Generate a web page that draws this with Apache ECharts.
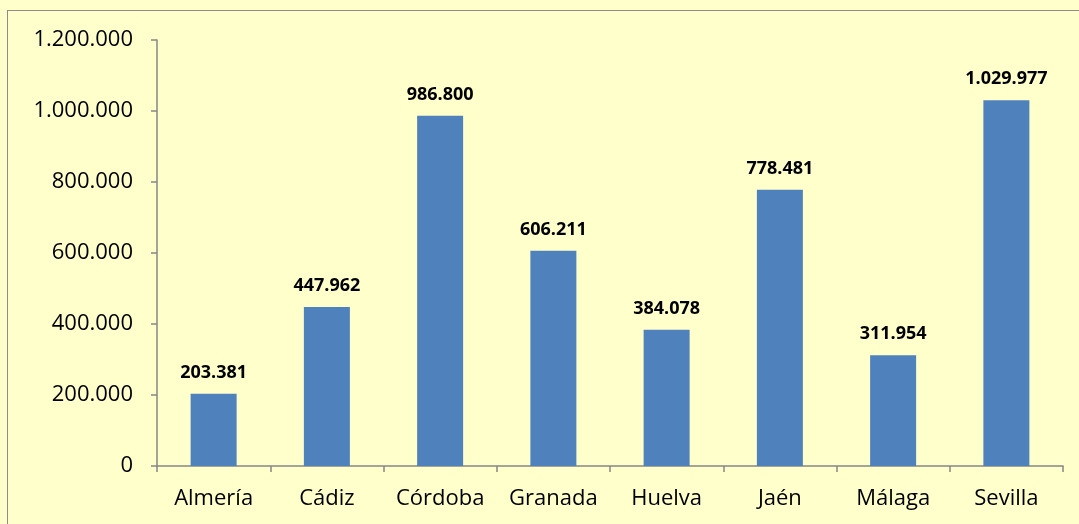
<!DOCTYPE html>
<html>
<head>
<meta charset="utf-8">
<script src="https://cdn.jsdelivr.net/npm/echarts@6/dist/echarts.min.js"></script>
<style>
  html, body { margin: 0; padding: 0; background: #ffffcc; overflow: hidden; }
  #frame {
    position: absolute; left: 7px; top: 10px; width: 1100px; height: 560px;
    border: 1px solid #8c8c8c; box-sizing: border-box;
  }
  #chart { position: absolute; left: 0; top: 0; width: 1079px; height: 524px; }
</style>
</head>
<body>
<div id="frame"></div>
<div id="chart"></div>
<script>
const categories = ['Almería', 'Cádiz', 'Córdoba', 'Granada', 'Huelva', 'Jaén', 'Málaga', 'Sevilla']
const values = [203381, 447962, 986800, 606211, 384078, 778481, 311954, 1029977]

// formato con punto de miles
const fmt = (v) => String(v).replace(/\B(?=(\d{3})+(?!\d))/g, '.')

const chart = echarts.init(document.getElementById('chart'))

chart.setOption({
  animation: false,
  grid: { left: 157, right: 16, top: 40, bottom: 58, containLabel: false },
  xAxis: {
    type: 'category',
    data: categories,
    axisLine: { lineStyle: { color: '#868686', width: 1.5 } },
    axisTick: { show: true, length: 6, alignWithLabel: false, lineStyle: { color: '#868686', width: 1.5 } },
    axisLabel: { interval: 0, hideOverlap: false, color: '#000', fontSize: 22, fontFamily: 'Open Sans', margin: 22 }
  },
  yAxis: {
    type: 'value',
    min: 0,
    max: 1200000,
    interval: 200000,
    axisLine: { show: true, lineStyle: { color: '#868686', width: 1.5 } },
    axisTick: { show: true, length: 6, lineStyle: { color: '#868686', width: 1.5 } },
    splitLine: { show: false },
    axisLabel: { color: '#000', fontSize: 22, fontFamily: 'Open Sans', margin: 24, formatter: fmt }
  },
  series: [
    {
      type: 'bar',
      data: values,
      barWidth: 46,
      itemStyle: { color: '#4f81bd' },
      label: {
        show: true,
        position: 'top',
        distance: 12,
        color: '#000',
        fontSize: 18,
        fontWeight: 'bold',
        fontFamily: 'Open Sans',
        formatter: (p) => fmt(p.value)
      }
    }
  ]
})
</script>
</body>
</html>
